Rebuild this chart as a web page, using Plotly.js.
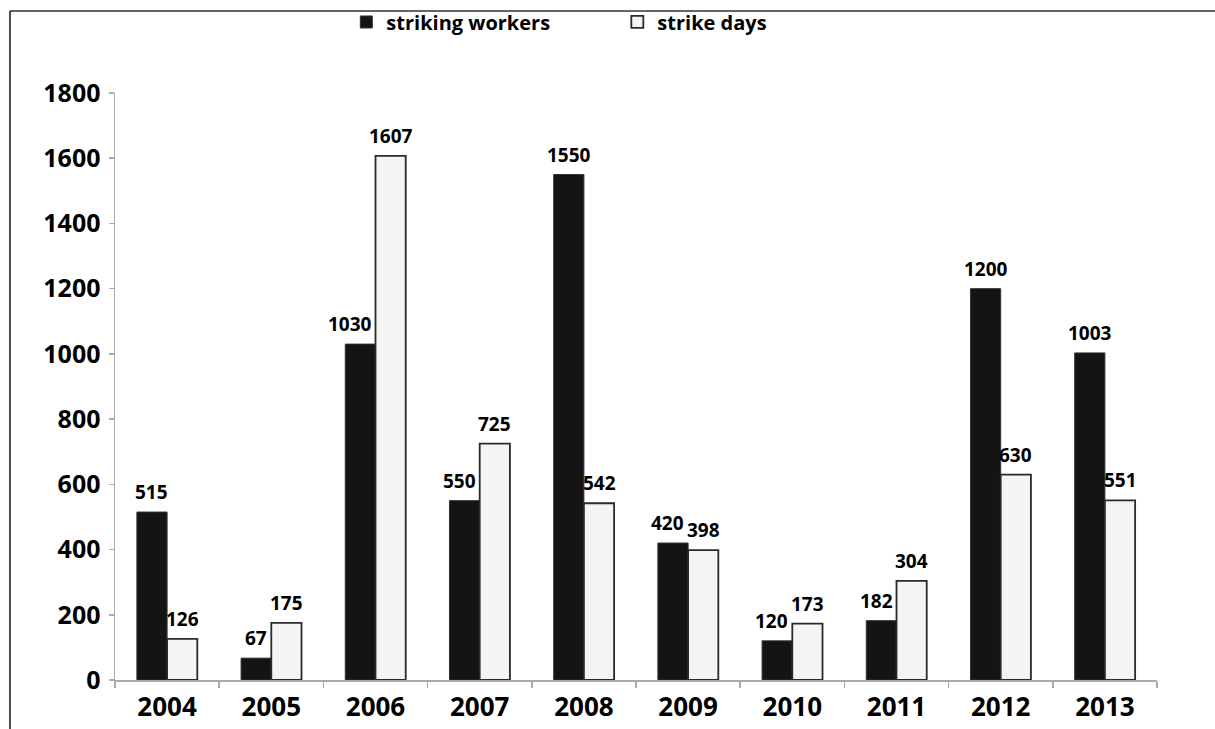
<!DOCTYPE html>
<html>
<head>
<meta charset="utf-8">
<script src="https://cdn.plot.ly/plotly-3.0.1.min.js"></script>
<style>html,body{margin:0;padding:0;background:#fff}#chart{width:1215px;height:729px}</style>
</head>
<body>
<div id="chart"></div>
<script>
var years = ["2004","2005","2006","2007","2008","2009","2010","2011","2012","2013"];
var strikingWorkers = [515, 67, 1030, 550, 1550, 420, 120, 182, 1200, 1003];
var strikeDays = [126, 175, 1607, 725, 542, 398, 173, 304, 630, 551];
var yTicks = [0,200,400,600,800,1000,1200,1400,1600,1800];

var FONT = "Open Sans, Noto Sans, sans-serif";
var BARGAP = 0.42;
var W = 1215, H = 729;
var M = {l: 115, r: 58, t: 93, b: 49};
var plotW = W - M.l - M.r;
var halfBar = plotW / years.length * (1 - BARGAP) / 4;   // half of a single bar, px

var traces = [
  {
    type: "bar", name: "striking workers", x: years, y: strikingWorkers,
    marker: {color: "#141414", line: {color: "#333333", width: 1}}
  },
  {
    type: "bar", name: "strike days", x: years, y: strikeDays,
    marker: {color: "#f4f4f4", line: {color: "#2a2a2a", width: 1.8}}
  }
];

var labelFont = {family: FONT, size: 19, color: "#000", weight: "bold"};
var annotations = [];
years.forEach(function (yr, i) {
  var w = strikingWorkers[i], d = strikeDays[i];
  // dark-bar label: centred, or pushed left when the light bar/label reaches its height
  var crowded = d + 60 > w;
  annotations.push({
    x: i, y: w, xref: "x", yref: "y", text: String(w), showarrow: false,
    xanchor: crowded ? "right" : "center", yanchor: "bottom",
    xshift: crowded ? -2 : -halfBar, yshift: 5, font: labelFont
  });
  annotations.push({
    x: i, y: d, xref: "x", yref: "y", text: String(d), showarrow: false,
    xanchor: "center", yanchor: "bottom", xshift: halfBar, yshift: 5, font: labelFont
  });
});

var layout = {
  width: W, height: H,
  margin: {l: M.l, r: M.r, t: M.t, b: M.b, autoexpand: false},
  paper_bgcolor: "#fff", plot_bgcolor: "#fff",
  font: {family: FONT, color: "#000"},
  barmode: "group", bargap: BARGAP, bargroupgap: 0,
  showlegend: true,
  legend: {
    orientation: "h", x: 0.222, xanchor: "left", y: 1.121, yanchor: "middle",
    bgcolor: "rgba(0,0,0,0)",
    font: {family: FONT, size: 20, weight: "bold"}, entrywidth: 226, entrywidthmode: "pixels",
    itemwidth: 30, traceorder: "normal"
  },
  xaxis: {
    type: "category", range: [-0.5, years.length - 0.5],
    showline: true, linecolor: "#aaaaaa", linewidth: 1.5,
    ticks: "outside", tickson: "boundaries", ticklen: 6, tickcolor: "#aaaaaa", tickwidth: 1.5,
    ticklabelstandoff: 3,
    tickfont: {family: FONT, size: 26, weight: "bold"}, showgrid: false, zeroline: false
  },
  yaxis: {
    range: [0, 1800], tickvals: yTicks, showline: true, linecolor: "#aaaaaa", linewidth: 1.5,
    ticks: "outside", ticklen: 5, tickcolor: "#aaaaaa", tickwidth: 1.5,
    ticklabelstandoff: 3,
    tickfont: {family: FONT, size: 25, weight: "bold"}, showgrid: false, zeroline: false
  },
  annotations: annotations,
  shapes: [
    {type: "line", xref: "paper", yref: "paper", x0: -0.1008, x1: 1.06, y0: 1.1397, y1: 1.1397,
     line: {color: "#666666", width: 2}},
    {type: "line", xref: "paper", yref: "paper", x0: -0.1008, x1: -0.1008, y0: 1.1397, y1: -0.09,
     line: {color: "#111111", width: 1.5}}
  ]
};

Plotly.newPlot("chart", traces, layout, {displayModeBar: false, staticPlot: true});
</script>
</body>
</html>
